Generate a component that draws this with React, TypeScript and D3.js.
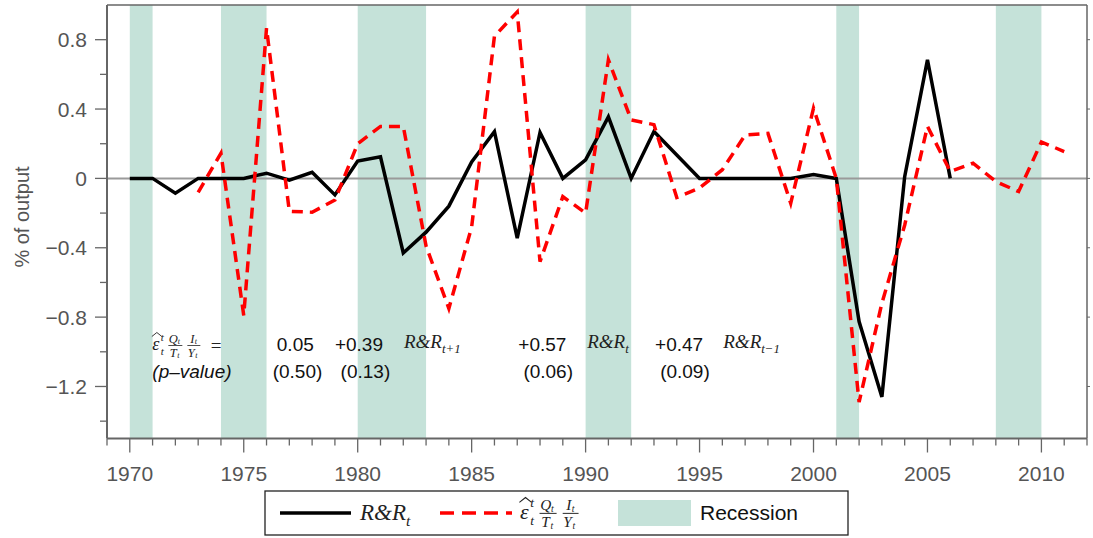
import React from "react";
import * as d3 from "d3";

const rrYears = [1970,1971,1972,1973,1974,1975,1976,1977,1978,1979,1980,1981,1982,1983,1984,1985,1986,1987,1988,1989,1990,1991,1992,1993,1994,1995,1996,1997,1998,1999,2000,2001,2002,2003,2004,2005,2006];
const rrValues = [0,0,-0.085,0,0,0,0.03,-0.01,0.035,-0.095,0.10,0.125,-0.43,-0.31,-0.16,0.095,0.27,-0.345,0.265,0,0.107,0.355,0,0.27,0.135,0,0,0,0,0,0.022,0,-0.826,-1.26,0.01,0.684,0];

const epsYears = [1973,1974,1975,1976,1977,1978,1979,1980,1981,1982,1983,1984,1985,1986,1987,1988,1989,1990,1991,1992,1993,1994,1995,1996,1997,1998,1999,2000,2001,2002,2003,2004,2005,2006,2007,2008,2009,2010,2011];
const epsValues = [-0.08,0.145,-0.79,0.866,-0.19,-0.195,-0.125,0.20,0.30,0.30,-0.39,-0.75,-0.28,0.82,0.96,-0.48,-0.105,-0.20,0.684,0.337,0.31,-0.11,-0.055,0.05,0.25,0.26,-0.143,0.405,0.0,-1.29,-0.72,-0.27,0.30,0.04,0.088,-0.018,-0.076,0.21,0.155];

const recessionStarts = [1970,1974,1980,1990,2001,2008];
const recessionEnds = [1971,1976,1983,1992,2002,2010];

const yMajorTicks = [-1.2,-0.8,-0.4,0,0.4,0.8];
const yMinorTicks = [-1.4,-1.0,-0.6,-0.2,0.2,0.6];
const yTickLabels = ["\u22121.2","\u22120.8","\u22120.4","0","0.4","0.8"];
const xMajorTicks = [1970,1975,1980,1985,1990,1995,2000,2005,2010];
const xTickLabels = ["1970","1975","1980","1985","1990","1995","2000","2005","2010"];
const xMinorTicks = [1969,1971,1972,1973,1974,1976,1977,1978,1979,1981,1982,1983,1984,1986,1987,1988,1989,1991,1992,1993,1994,1996,1997,1998,1999,2001,2002,2003,2004,2006,2007,2008,2009,2011,2012];

const coefValues = ["0.05","+0.39","+0.57","+0.47"];
const coefYears = [1976.45,1979.0,1987.05,1993.05];
const pValues = ["(0.50)","(0.13)","(0.06)","(0.09)"];
const pYears = [1976.27,1979.25,1987.27,1993.27];
const rrLabelSubs = ["t+1","t","t−1"];
const rrLabelYears = [1982.03,1990.07,1996.04];

const W = 1093, H = 538;
const L = 107, R = 1087, T = 5, B = 438.5;
const SANS = "'Liberation Sans', Arial, sans-serif";
const SERIF = "'Liberation Serif', 'Times New Roman', serif";
const AXIS = "#666";
const LABEL = "#555";
const GREEN = "#c5e2d9";

function EpsFormula({ x, y, s }: { x: number; y: number; s: number }) {
  return (
    <g transform={`translate(${x},${y}) scale(${s})`} fontFamily={SERIF} fill="#222" fontStyle="italic">
      <text x={0} y={4} fontSize={18}>ε</text>
      <path d="M-0.5,-9.5 L4.5,-13.5 L9.5,-9.5" fill="none" stroke="#222" strokeWidth={0.9} />
      <text x={8.5} y={-5.5} fontSize={11}>t</text>
      <text x={8.5} y={9} fontSize={11}>t</text>
      <text x={16.5} y={-3.5} fontSize={12.5}>Q</text>
      <text x={25.5} y={-2} fontSize={8}>t</text>
      <line x1={16} x2={30} y1={-0.5} y2={-0.5} stroke="#222" strokeWidth={0.8} />
      <text x={17.5} y={10.5} fontSize={12.5}>T</text>
      <text x={25} y={12} fontSize={8}>t</text>
      <text x={38} y={-3.5} fontSize={12.5}>I</text>
      <text x={42.5} y={-2} fontSize={8}>t</text>
      <line x1={35} x2={48} y1={-0.5} y2={-0.5} stroke="#222" strokeWidth={0.8} />
      <text x={35.5} y={10.5} fontSize={12.5}>Y</text>
      <text x={43} y={12} fontSize={8}>t</text>
    </g>
  );
}

function RR({ x, y, size, sub }: { x: number; y: number; size: number; sub: string }) {
  return (
    <text x={x} y={y} fontFamily={SERIF} fontStyle="italic" fontSize={size} fill="#222">
      {"R&R"}
      <tspan fontSize={size * 0.68} dy={size * 0.25}>{sub}</tspan>
    </text>
  );
}

export default function App() {
  const x = d3.scaleLinear().domain([1969, 2012]).range([L, R]);
  const y = d3.scaleLinear().domain([-1.5, 1.0]).range([B, T]);

  const rrLine = d3.line<number>().x((_, i) => x(rrYears[i])).y((v) => y(v))(rrValues) || "";
  const epsLine = d3.line<number>().x((_, i) => x(epsYears[i])).y((v) => y(v))(epsValues) || "";

  return (
    <svg width={W} height={H} style={{ position: "absolute", left: 0, top: 0, background: "#fff" }}>
      {recessionStarts.map((s, i) => (
        <rect key={"rec" + i} x={x(s)} y={T} width={x(recessionEnds[i]) - x(s)} height={B - T} fill={GREEN} />
      ))}
      <line x1={L} x2={R} y1={y(0)} y2={y(0)} stroke="#9a9a9a" strokeWidth={2} />

      {/* annotation */}
      <EpsFormula x={x(1970.99)} y={346} s={1} />
      <text x={x(1973.55)} y={352} fontFamily={SERIF} fontSize={19} fill="#222">=</text>
      <text x={x(1970.99)} y={378} fontFamily={SANS} fontStyle="italic" fontSize={19} fill="#111">(p–value)</text>
      {coefValues.map((c, i) => (
        <text key={"c" + i} x={x(coefYears[i])} y={351} fontFamily={SANS} fontSize={19} fill="#111">{c}</text>
      ))}
      {pValues.map((p, i) => (
        <text key={"p" + i} x={x(pYears[i])} y={378} fontFamily={SANS} fontSize={19} fill="#111">{p}</text>
      ))}
      {rrLabelSubs.map((sub, i) => (
        <RR key={"rr" + i} x={x(rrLabelYears[i])} y={348} size={19} sub={sub} />
      ))}

      {/* data lines */}
      <path d={rrLine} fill="none" stroke="#000" strokeWidth={3.5} strokeLinejoin="miter" />
      <path d={epsLine} fill="none" stroke="#ff0000" strokeWidth={3.5} strokeDasharray="11,7" />

      {/* frame */}
      <line x1={L} x2={R} y1={T} y2={T} stroke={AXIS} strokeWidth={1.5} />
      <line x1={R} x2={R} y1={T} y2={B} stroke={AXIS} strokeWidth={1.5} />
      <line x1={L} x2={L} y1={T} y2={B} stroke={AXIS} strokeWidth={2} />
      <line x1={L} x2={R} y1={B} y2={B} stroke={AXIS} strokeWidth={2} />

      {yMajorTicks.map((v, i) => (
        <g key={"ym" + i}>
          <line x1={L - 12} x2={L} y1={y(v)} y2={y(v)} stroke={AXIS} strokeWidth={1.3} />
          <line x1={R} x2={R + 3} y1={y(v)} y2={y(v)} stroke={AXIS} strokeWidth={1} />
          <text x={L - 20} y={y(v) + 7.5} textAnchor="end" fontFamily={SANS} fontSize={21} fill={LABEL}>{yTickLabels[i]}</text>
        </g>
      ))}
      {yMinorTicks.map((v, i) => (
        <line key={"yn" + i} x1={L - 7} x2={L} y1={y(v)} y2={y(v)} stroke={AXIS} strokeWidth={1.3} />
      ))}
      {xMajorTicks.map((v, i) => (
        <g key={"xm" + i}>
          <line x1={x(v)} x2={x(v)} y1={B} y2={B + 14} stroke={AXIS} strokeWidth={1.3} />
          <text x={x(v)} y={481} textAnchor="middle" fontFamily={SANS} fontSize={21} fill={LABEL}>{xTickLabels[i]}</text>
        </g>
      ))}
      {xMinorTicks.map((v, i) => (
        <line key={"xn" + i} x1={x(v)} x2={x(v)} y1={B} y2={B + 7} stroke={AXIS} strokeWidth={1.3} />
      ))}

      <text transform={`translate(29,217) rotate(-90)`} textAnchor="middle" fontFamily={SANS} fontSize={20} fill={LABEL}>% of output</text>

      {/* legend */}
      <rect x={265} y={491} width={583} height={44} fill="#fff" stroke="#222" strokeWidth={1.3} />
      <line x1={280} x2={351} y1={513} y2={513} stroke="#000" strokeWidth={3.5} />
      <RR x={360} y={520} size={23} sub="t" />
      <line x1={440} x2={512} y1={513} y2={513} stroke="#ff0000" strokeWidth={3.5} strokeDasharray="14,8" />
      <EpsFormula x={520} y={514} s={1.22} />
      <rect x={618} y={500} width={73} height={26} fill={GREEN} />
      <text x={700} y={520} fontFamily={SANS} fontSize={21} fill="#111">Recession</text>
    </svg>
  );
}
